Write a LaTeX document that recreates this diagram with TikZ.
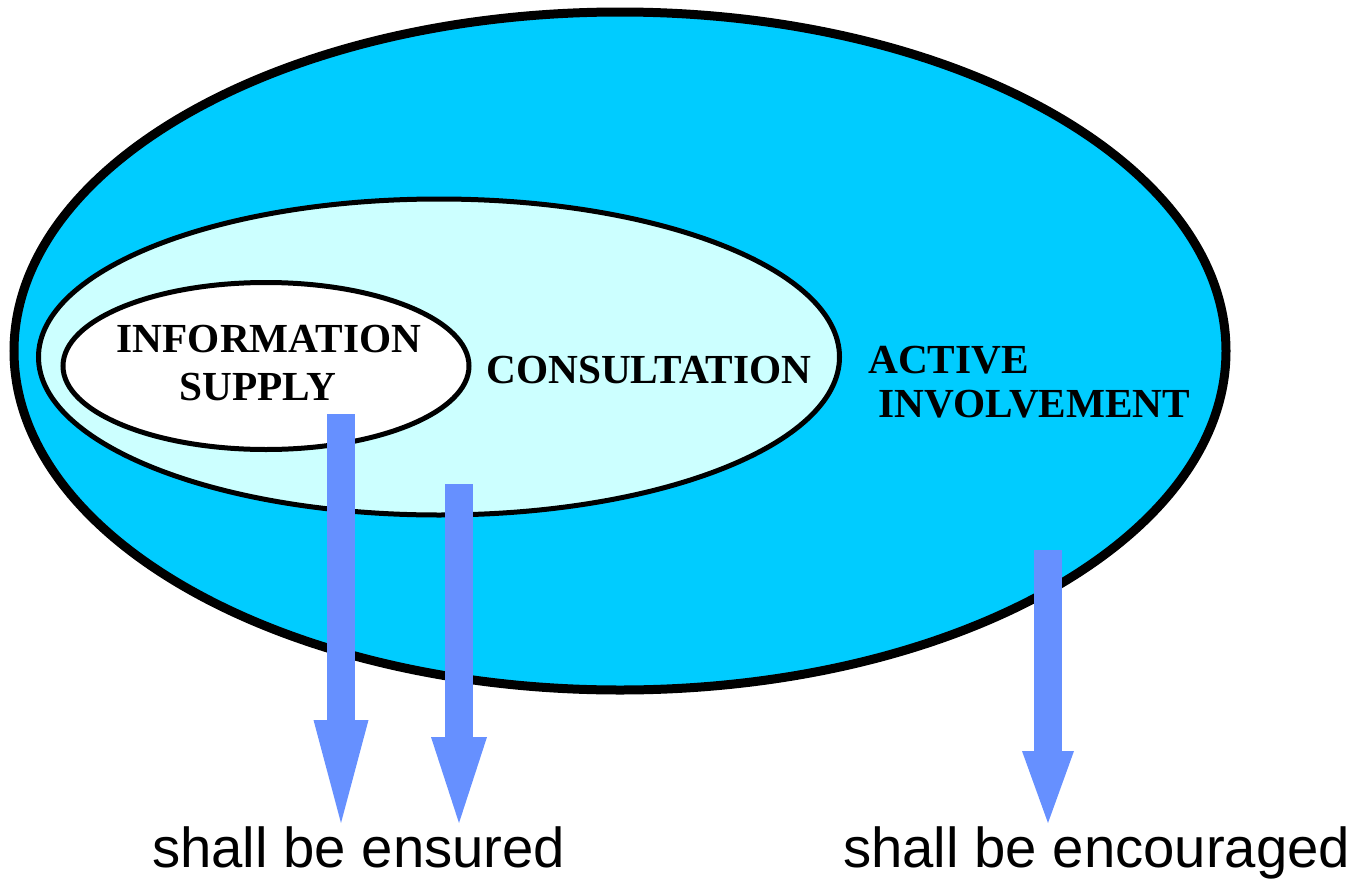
\documentclass[tikz,border=0pt]{standalone}
\usepackage{fontspec}
\setmainfont{Liberation Serif}
\newfontfamily\labelsans{Liberation Sans}
\usetikzlibrary{shapes.geometric,arrows.meta}
\definecolor{activec}{HTML}{00CCFF}
\definecolor{consultc}{HTML}{CCFFFF}
\definecolor{arrowc}{HTML}{6690FF}
\tikzset{
  zone/.style={ellipse, draw=black, inner sep=0pt, outer sep=0pt},
  zonetext/.style={font=\fontsize{41.3}{45}\selectfont\bfseries, inner sep=0pt, text=black},
  resulttext/.style={font=\labelsans\fontsize{56.3}{60}\selectfont, inner sep=0pt, anchor=base west},
  bigarrow/.style={draw=arrowc, line width=28pt},
}
\begin{document}
\begin{tikzpicture}[x=1pt,y=-1pt]
\useasboundingbox (0,0) rectangle (1353,881);
% ellipses
\node[zone, fill=activec, line width=9pt, minimum width=1212pt, minimum height=678pt] (active) at (620,351) {};
\node[zone, fill=consultc, line width=5pt, minimum width=801pt, minimum height=316pt] (consult) at (439,357) {};
\node[zone, fill=white, line width=5pt, minimum width=406pt, minimum height=167pt] (info) at (266,366) {};
% labels
\node[zonetext, anchor=base] (l1) at (269,352) {INFORMATION};
\node[zonetext, anchor=base] (l2) at (258,400) {SUPPLY};
\node[zonetext, anchor=base] (l3) at (649,383) {CONSULTATION};
\node[zonetext, anchor=base west] (l4) at (868,373) {ACTIVE};
\node[zonetext, anchor=base west] (l5) at (878,417) {INVOLVEMENT};
% result texts
\node[resulttext] (ensured) at (152,867) {shall be ensured};
\node[resulttext] (encouraged) at (843,867) {shall be encouraged};
% arrow end points
\coordinate (s1) at (341,414);
\coordinate (t1) at (341,823);
\coordinate (s2) at (459,484);
\coordinate (t2) at (459,823);
\coordinate (s3) at (1048,550);
\coordinate (t3) at (1048,823);
\draw[bigarrow, -{Triangle[length=103pt, width=55pt, line width=0pt 0 0, fill=arrowc]}] (s1) -- (t1);
\draw[bigarrow, -{Triangle[length=86pt, width=56pt, line width=0pt 0 0, fill=arrowc]}] (s2) -- (t2);
\draw[bigarrow, -{Triangle[length=72pt, width=52pt, line width=0pt 0 0, fill=arrowc]}] (s3) -- (t3);
\end{tikzpicture}
\end{document}
